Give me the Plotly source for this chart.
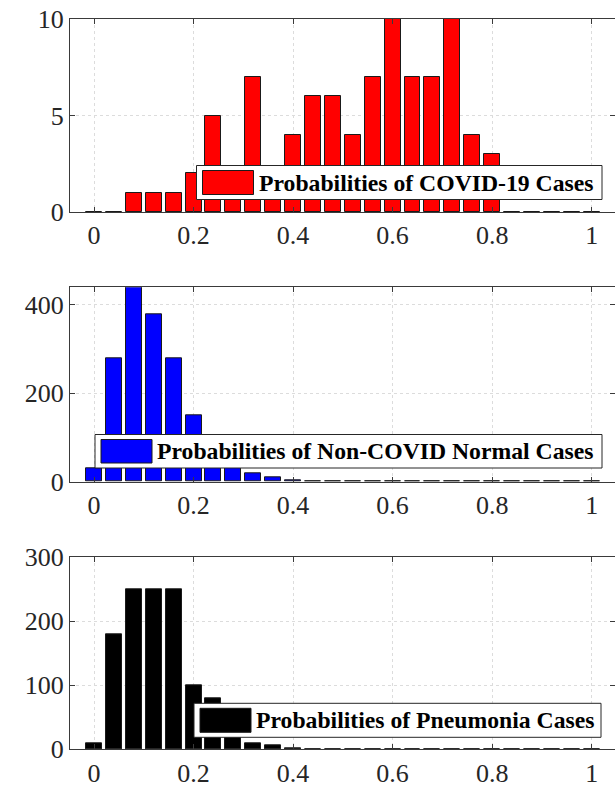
import plotly.graph_objects as go

# ---------------- data ----------------
bin_centers = [0.00, 0.04, 0.08, 0.12, 0.16, 0.20, 0.24, 0.28, 0.32, 0.36,
               0.40, 0.44, 0.48, 0.52, 0.56, 0.60, 0.64, 0.68, 0.72, 0.76,
               0.80, 0.84, 0.88, 0.92, 0.96, 1.00]
covid_counts = [0, 0, 1, 1, 1, 2, 5, 2, 7, 2,
                4, 6, 6, 4, 7, 10, 7, 7, 10, 4,
                3, 0, 0, 0, 0, 0]
normal_counts = [30, 280, 440, 380, 280, 150, 80, 45, 20, 10,
                 4, 0, 0, 0, 0, 0, 0, 0, 0, 0,
                 0, 0, 0, 0, 0, 0]
pneumonia_counts = [10, 180, 250, 250, 250, 100, 80, 50, 10, 7,
                    2, 0, 0, 0, 0, 0, 0, 0, 0, 0,
                    0, 0, 0, 0, 0, 0]
x_tick_vals = [0, 0.2, 0.4, 0.6, 0.8, 1]
x_tick_text = ["0", "0.2", "0.4", "0.6", "0.8", "1"]
covid_yticks = [0, 5, 10]
normal_yticks = [0, 200, 400]
pneu_yticks = [0, 100, 200, 300]
legend_texts = ["Probabilities of COVID-19 Cases",
                "Probabilities of Non-COVID Normal Cases",
                "Probabilities of Pneumonia Cases"]

W, H = 615, 790
def px(x):
    return x / W
def py(y):
    return 1 - y / H

FONT = "Liberation Serif"
AXC = "#3a3a3a"
GRID = "#dcdcdc"

panels = [
    dict(counts=covid_counts, color="#ff0000", yr=[0, 10], yt=covid_yticks,
         top=19, bottom=212, leg=(196.5, 165.5, 602, 199.5)),
    dict(counts=normal_counts, color="#0000ff", yr=[0, 440], yt=normal_yticks,
         top=287.3, bottom=481.7, leg=(95, 434.5, 602, 468)),
    dict(counts=pneumonia_counts, color="#000000", yr=[0, 300], yt=pneu_yticks,
         top=557.3, bottom=749.3, leg=(194, 703.3, 601, 737.3)),
]

fig = go.Figure()
shapes = []
annotations = []
x_left_px, x0_px, unit_px = 70, 94, 497.7
xr = [(x_left_px - x0_px) / unit_px, (W - x0_px) / unit_px]

for i, p in enumerate(panels, start=1):
    xa = "x" if i == 1 else f"x{i}"
    ya = "y" if i == 1 else f"y{i}"
    fig.add_trace(go.Bar(
        x=bin_centers, y=p["counts"], width=0.032,
        marker=dict(color=p["color"], line=dict(color="#1a1a1a", width=1)),
        xaxis=xa, yaxis=ya, showlegend=False, hoverinfo="x+y"))
    axis_common = dict(showline=True, linecolor=AXC, linewidth=1, mirror="ticks",
                       ticks="inside", ticklen=5, tickcolor=AXC,
                       showgrid=True, gridcolor=GRID, griddash="dot", gridwidth=1,
                       zeroline=False, automargin=False,
                       tickfont=dict(family=FONT, size=26, color="#262626"))
    xkey = "xaxis" if i == 1 else f"xaxis{i}"
    ykey = "yaxis" if i == 1 else f"yaxis{i}"
    fig.update_layout(**{
        xkey: dict(domain=[px(x_left_px), 1], range=xr, anchor=ya,
                   tickvals=x_tick_vals, ticktext=x_tick_text, **axis_common),
        ykey: dict(domain=[py(p["bottom"]), py(p["top"])], range=p["yr"], anchor=xa,
                   tickvals=p["yt"], **axis_common),
    })
    # legend box
    lx0, ly0, lx1, ly1 = p["leg"]
    shapes.append(dict(type="rect", xref="paper", yref="paper",
                       x0=px(lx0), x1=px(lx1), y0=py(ly1), y1=py(ly0),
                       fillcolor="white", line=dict(color="#262626", width=1), layer="above"))
    sx0 = lx0 + 6
    shapes.append(dict(type="rect", xref="paper", yref="paper",
                       x0=px(sx0), x1=px(sx0 + 51), y0=py(ly1 - 5), y1=py(ly0 + 5),
                       fillcolor=p["color"], line=dict(color="#1a1a1a", width=1), layer="above"))
    annotations.append(dict(xref="paper", yref="paper", x=px(sx0 + 54), y=py((ly0 + ly1) / 2),
                            xanchor="left", yanchor="middle", showarrow=False,
                            text="<b>" + legend_texts[i - 1] + "</b>",
                            font=dict(family=FONT, size=23.7, color="black")))

fig.update_layout(width=W, height=H, margin=dict(l=0, r=0, t=0, b=0),
                  plot_bgcolor="white", paper_bgcolor="white",
                  shapes=shapes, annotations=annotations, bargap=0)
fig.write_html("out.html", config={"displayModeBar": False},
               post_script="document.body.style.margin='0';document.body.style.overflow='hidden';")
